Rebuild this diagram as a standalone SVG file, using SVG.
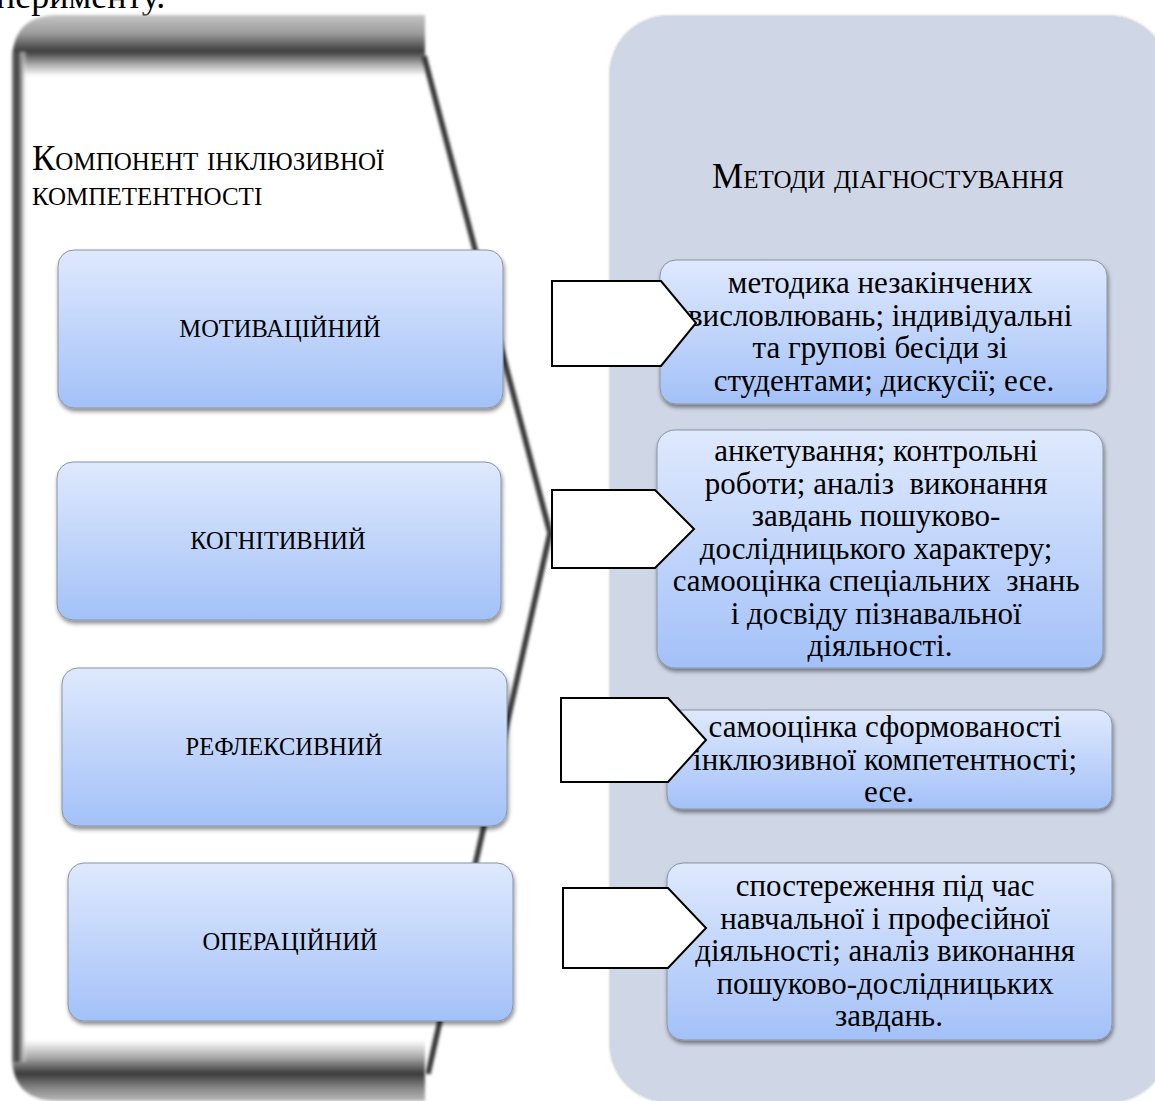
<svg xmlns="http://www.w3.org/2000/svg" width="1155" height="1101" viewBox="0 0 1155 1101">
<defs>
  <linearGradient id="gTop" x1="0" y1="0" x2="0" y2="1">
    <stop offset="0" stop-color="#c4c4c4"/>
    <stop offset="0.3" stop-color="#9c9c9c"/>
    <stop offset="0.6" stop-color="#3c3c3c"/>
    <stop offset="0.82" stop-color="#b0b0b0"/>
    <stop offset="1" stop-color="#ffffff"/>
  </linearGradient>
  <linearGradient id="gBot" x1="0" y1="0" x2="0" y2="1">
    <stop offset="0" stop-color="#ffffff"/>
    <stop offset="0.28" stop-color="#aaaaaa"/>
    <stop offset="0.55" stop-color="#3a3a3a"/>
    <stop offset="0.8" stop-color="#8a8a8a"/>
    <stop offset="1" stop-color="#b8b8b8"/>
  </linearGradient>
  <linearGradient id="gLeft" x1="0" y1="0" x2="1" y2="0">
    <stop offset="0" stop-color="#7a7a7a"/>
    <stop offset="0.35" stop-color="#3a3a3a"/>
    <stop offset="0.65" stop-color="#9a9a9a"/>
    <stop offset="1" stop-color="#ffffff" stop-opacity="0"/>
  </linearGradient>
  <linearGradient id="gNode" x1="0" y1="0" x2="0" y2="1">
    <stop offset="0" stop-color="#dfe9fd"/>
    <stop offset="1" stop-color="#a3c1f8"/>
  </linearGradient>
  <filter id="soft" x="-5%" y="-5%" width="110%" height="110%">
    <feGaussianBlur stdDeviation="1.5"/>
  </filter>
  <filter id="blurLine" x="-20%" y="-5%" width="140%" height="110%">
    <feGaussianBlur stdDeviation="1.7"/>
  </filter>
  <filter id="shadow" x="-5%" y="-10%" width="112%" height="125%">
    <feDropShadow dx="1" dy="3" stdDeviation="2" flood-color="#000" flood-opacity="0.45"/>
  </filter>
  <filter id="panelShadow" x="-5%" y="-5%" width="110%" height="110%">
    <feDropShadow dx="0" dy="0" stdDeviation="1.5" flood-color="#000" flood-opacity="0.3"/>
  </filter>
  <style>
    .serif { font-family: "Liberation Serif", "Times New Roman", serif; fill: #000; }
    .head { font-size: 35px; font-variant: small-caps; }
    .lbl { font-size: 24.5px; text-anchor: middle; }
    .body { font-size: 31px; text-anchor: middle; }
    .node { fill: url(#gNode); stroke: #8894a8; stroke-width: 1; filter: url(#shadow); }
    .arrow { fill: #ffffff; stroke: #000; stroke-width: 2; stroke-linejoin: miter; }
  </style>
</defs>

<rect width="1155" height="1101" fill="#ffffff"/>

<!-- cut-off paragraph text at top -->
<text class="serif" x="-4" y="8" font-size="36">перименту.</text>

<!-- left bracket frame -->
<g id="left-frame">
  <g filter="url(#soft)">
    <path d="M12,76 L12,62 Q12,15 58,15 L425,15 L425,76 Z" fill="url(#gTop)"/>
    <path d="M12,1040 L425,1040 L425,1101 L58,1101 Q12,1101 12,1056 Z" fill="url(#gBot)"/>
    <rect x="12" y="52" width="15" height="1010" fill="url(#gLeft)"/>
  </g>
  <path d="M424,56 L550,533 L428,1074" fill="none" stroke="#3a3a3a" stroke-width="5.5" stroke-linejoin="round" filter="url(#blurLine)"/>
  <text class="serif head" y="170"><tspan x="32">Компонент</tspan><tspan x="207">інклюзивної</tspan></text>
  <text class="serif head" x="32" y="205">компетентності</text>
</g>

<!-- right panel -->
<g id="right-panel">
  <rect x="610" y="16" width="558" height="1086" rx="58" ry="58" fill="#cfd6e5" filter="url(#panelShadow)"/>
  <text class="serif head" x="888" y="188" text-anchor="middle">Методи діагностування</text>
</g>

<!-- component nodes -->
<g id="node-motivational">
  <rect class="node" x="58" y="250" width="445" height="158" rx="16"/>
  <text class="serif lbl" x="280" y="337">МОТИВАЦІЙНИЙ</text>
</g>
<g id="node-cognitive">
  <rect class="node" x="57" y="462" width="444" height="158" rx="16"/>
  <text class="serif lbl" x="278" y="549">КОГНІТИВНИЙ</text>
</g>
<g id="node-reflexive">
  <rect class="node" x="62" y="668" width="445" height="158" rx="16"/>
  <text class="serif lbl" x="284" y="755">РЕФЛЕКСИВНИЙ</text>
</g>
<g id="node-operational">
  <rect class="node" x="68" y="863" width="445" height="158" rx="16"/>
  <text class="serif lbl" x="290" y="950">ОПЕРАЦІЙНИЙ</text>
</g>

<!-- method nodes -->
<g id="method-1">
  <rect class="node" x="660" y="260" width="447" height="144" rx="16"/>
  <text class="serif body">
    <tspan x="884" y="293">методика незакінчених</tspan>
    <tspan x="884" y="326">висловлювань; індивідуальні</tspan>
    <tspan x="884" y="358">та групові бесіди зі</tspan>
    <tspan x="884" y="391">студентами; дискусії; есе.</tspan>
  </text>
</g>
<g id="method-2">
  <rect class="node" x="657" y="430" width="446" height="238" rx="18"/>
  <text class="serif body">
    <tspan x="880" y="461">анкетування; контрольні</tspan>
    <tspan x="880" y="494">роботи; аналіз&#160; виконання</tspan>
    <tspan x="880" y="526">завдань пошуково-</tspan>
    <tspan x="880" y="559">дослідницького характеру;</tspan>
    <tspan x="880" y="591">самооцінка спеціальних&#160; знань</tspan>
    <tspan x="880" y="624">і досвіду пізнавальної</tspan>
    <tspan x="880" y="656">діяльності.</tspan>
  </text>
</g>
<g id="method-3">
  <rect class="node" x="667" y="710" width="445" height="99" rx="14"/>
  <text class="serif body">
    <tspan x="889" y="737">самооцінка сформованості</tspan>
    <tspan x="889" y="770">інклюзивної компетентності;</tspan>
    <tspan x="889" y="802">есе.</tspan>
  </text>
</g>
<g id="method-4">
  <rect class="node" x="667" y="863" width="445" height="177" rx="16"/>
  <text class="serif body">
    <tspan x="889" y="896">спостереження під час</tspan>
    <tspan x="889" y="929">навчальної і професійної</tspan>
    <tspan x="889" y="961">діяльності; аналіз виконання</tspan>
    <tspan x="889" y="994">пошуково-дослідницьких</tspan>
    <tspan x="889" y="1026">завдань.</tspan>
  </text>
</g>

<!-- connectors (pentagon arrows) -->
<g id="connectors">
  <polygon class="arrow" points="552,281 661,281 696,323 661,366 552,366"/>
  <polygon class="arrow" points="552,490 655,490 694,529 655,568 552,568"/>
  <polygon class="arrow" points="561,698 668,698 706,740 668,782 561,782"/>
  <polygon class="arrow" points="563,888 668,888 706,928 668,968 563,968"/>
</g>
</svg>
